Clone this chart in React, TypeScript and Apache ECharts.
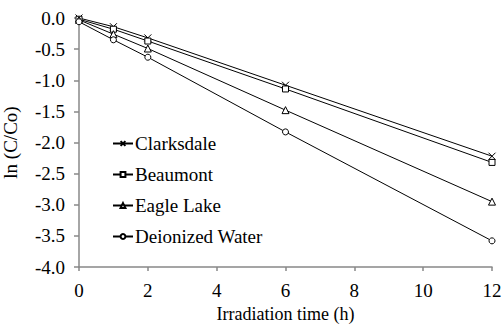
import React, { useEffect, useRef } from "react";
import * as echarts from "echarts";

const hours = [0, 1, 2, 6, 12];
const clarksdale = [0, -0.14, -0.32, -1.08, -2.22];
const beaumont = [-0.02, -0.18, -0.37, -1.14, -2.32];
const eagleLake = [-0.03, -0.26, -0.49, -1.48, -2.95];
const deionized = [-0.06, -0.35, -0.63, -1.83, -3.58];
const seriesNames = ["Clarksdale", "Beaumont", "Eagle Lake", "Deionized Water"];
const xTicks = [0, 2, 4, 6, 8, 10, 12];
const yTicks = [0, -0.5, -1, -1.5, -2, -2.5, -3, -3.5, -4];

const FONT = "Liberation Serif";

export default function App() {
  const ref = useRef<HTMLDivElement>(null);
  useEffect(() => {
    const chart = echarts.init(ref.current!, null, { renderer: "svg" });
    const symbols = [
      "path://M0,0L10,10M0,10L10,0",
      "rect",
      "triangle",
      "circle",
    ];
    const sizes = [7, 6, 7, 6];
    const all = [clarksdale, beaumont, eagleLake, deionized];
    const ts = { fontFamily: FONT, fontSize: 19, color: "#000", fontWeight: "normal" as const };
    chart.setOption({
      animation: false,
      backgroundColor: "#fff",
      textStyle: { fontFamily: FONT },
      grid: { left: 79, right: 11, top: 18, bottom: 57, containLabel: false, outerBoundsMode: "none" },
      legend: {
        orient: "vertical",
        left: 107,
        top: 129,
        itemWidth: 20,
        itemHeight: 6,
        itemGap: 12,
        data: seriesNames,
        textStyle: { ...ts, padding: [0, 0, 0, -3] },
      },
      xAxis: {
        type: "value",
        min: 0,
        max: 12,
        interval: 2,
        name: "Irradiation time (h)",
        nameLocation: "middle",
        nameGap: 31,
        nameTextStyle: { ...ts, fontSize: 18 },
        axisLine: { show: true, onZero: false, lineStyle: { color: "#888", width: 1.5 } },
        axisTick: { show: true, inside: false, length: 4, lineStyle: { color: "#888", width: 1.5 } },
        axisLabel: {
          margin: 14,
          ...ts,
          formatter: (v: number) => (xTicks.includes(v) ? String(v) : ""),
        },
        splitLine: { show: false },
      },
      yAxis: {
        type: "value",
        min: -4,
        max: 0,
        interval: 0.5,
        name: "ln (C/Co)",
        nameLocation: "middle",
        nameGap: 59,
        nameRotate: 90,
        nameTextStyle: { ...ts },
        axisLine: { show: true, onZero: false, lineStyle: { color: "#888", width: 1.5 } },
        axisTick: { show: true, inside: false, length: 5, lineStyle: { color: "#888", width: 1.5 } },
        axisLabel: {
          margin: 14,
          ...ts,
          formatter: (v: number) =>
            yTicks.some((t) => Math.abs(t - v) < 1e-9) ? v.toFixed(1) : "",
        },
        splitLine: { show: false },
      },
      series: all.map((vals, i) => ({
        name: seriesNames[i],
        type: "line",
        data: hours.map((h, j) => [h, vals[j]]),
        symbol: symbols[i],
        symbolSize: sizes[i],
        showSymbol: true,
        lineStyle: { color: "#000", width: 1 },
        itemStyle: { color: "#fff", borderColor: "#000", borderWidth: 1 },
      })),
    });
    return () => chart.dispose();
  }, []);
  return <div ref={ref} style={{ width: 503, height: 324, position: "absolute", left: 0, top: 0 }} />;
}
